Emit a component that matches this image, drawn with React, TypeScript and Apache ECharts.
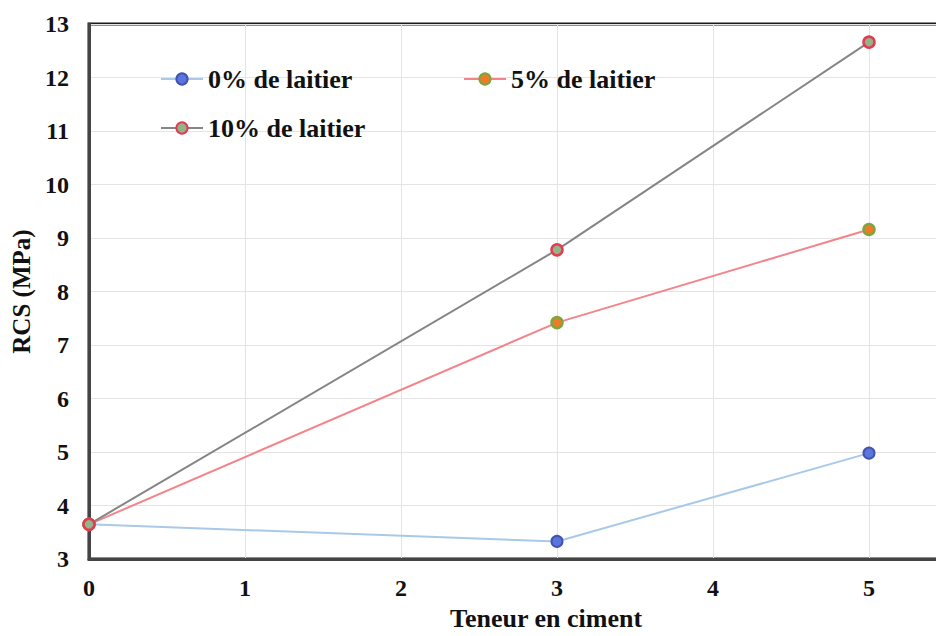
import React, { useEffect, useRef } from "react";
import * as echarts from "echarts";

const xValues = [0, 3, 5];
const slag0 = [3.65, 3.33, 4.98];
const slag5 = [3.65, 7.42, 9.16];
const slag10 = [3.65, 8.78, 12.66];
const seriesNames = ["0% de laitier", "5% de laitier", "10% de laitier"];
const xTicks = [0, 1, 2, 3, 4, 5];

const FONT = "'Liberation Serif', 'Times New Roman', serif";

export default function App() {
  const ref = useRef<HTMLDivElement>(null);
  useEffect(() => {
    if (!ref.current) return;
    const chart = echarts.init(ref.current, undefined, { renderer: "svg" });
    const pair = (vals: number[]) => xValues.map((x, i) => [x, vals[i]]);
    const legendBase = {
      orient: "horizontal" as const,
      padding: 0,
      itemWidth: 42,
      itemHeight: 14,
      itemGap: 5,
      textStyle: { fontFamily: FONT, fontWeight: "bold" as const, fontSize: 26, color: "#111" },
    };
    chart.setOption({
      animation: false,
      backgroundColor: "#fff",
      grid: {
        left: 89,
        top: 24,
        right: 15,
        bottom: 63,
        show: true,
        borderColor: "#1a1a1a",
        borderWidth: 3,
        backgroundColor: "transparent",
      },
      legend: [
        { ...legendBase, left: 160, top: 66, data: [seriesNames[0]] },
        { ...legendBase, left: 463, top: 66, data: [seriesNames[1]] },
        { ...legendBase, left: 160, top: 115, data: [seriesNames[2]] },
      ],
      xAxis: {
        type: "value",
        min: 0,
        max: 6,
        interval: 1,
        name: "Teneur en ciment",
        nameLocation: "middle",
        nameGap: 34,
        nameTextStyle: {
          fontFamily: FONT,
          fontWeight: "bold",
          fontSize: 26,
          color: "#111",
          padding: [0, 22, 0, 0],
        },
        axisLine: { show: true, lineStyle: { color: "#444", width: 3 } },
        axisTick: { show: false },
        axisLabel: {
          fontFamily: FONT,
          fontWeight: "bold",
          fontSize: 24,
          color: "#111",
          margin: 17,
          formatter: (v: number) => (xTicks.includes(v) ? String(v) : ""),
        },
        splitLine: { show: true, lineStyle: { color: "#e4e4e4", width: 1 } },
      },
      yAxis: {
        type: "value",
        min: 3,
        max: 13,
        interval: 1,
        name: "RCS (MPa)",
        nameLocation: "middle",
        nameGap: 55,
        nameTextStyle: { fontFamily: FONT, fontWeight: "bold", fontSize: 25, color: "#111" },
        axisLine: { show: true, lineStyle: { color: "#444", width: 3 } },
        axisTick: { show: false },
        axisLabel: { fontFamily: FONT, fontWeight: "bold", fontSize: 24, color: "#111", margin: 20 },
        splitLine: { show: true, lineStyle: { color: "#e4e4e4", width: 1 } },
      },
      series: [
        {
          name: seriesNames[0],
          type: "line",
          data: pair(slag0),
          symbol: "circle",
          symbolSize: 11,
          lineStyle: { color: "#a9c9e8", width: 2 },
          itemStyle: { color: "#5a76de", borderColor: "#4253b0", borderWidth: 2 },
        },
        {
          name: seriesNames[1],
          type: "line",
          data: pair(slag5),
          symbol: "circle",
          symbolSize: 11,
          lineStyle: { color: "#f3858a", width: 2 },
          itemStyle: { color: "#ee7b2c", borderColor: "#7aa83e", borderWidth: 2.5 },
        },
        {
          name: seriesNames[2],
          type: "line",
          data: pair(slag10),
          symbol: "circle",
          symbolSize: 11,
          lineStyle: { color: "#858585", width: 2 },
          itemStyle: { color: "#8fb58a", borderColor: "#e63a50", borderWidth: 2.5 },
        },
      ],
    });
    return () => chart.dispose();
  }, []);
  return <div ref={ref} style={{ width: 1040, height: 636, position: "fixed", left: 0, top: 0 }} />;
}
